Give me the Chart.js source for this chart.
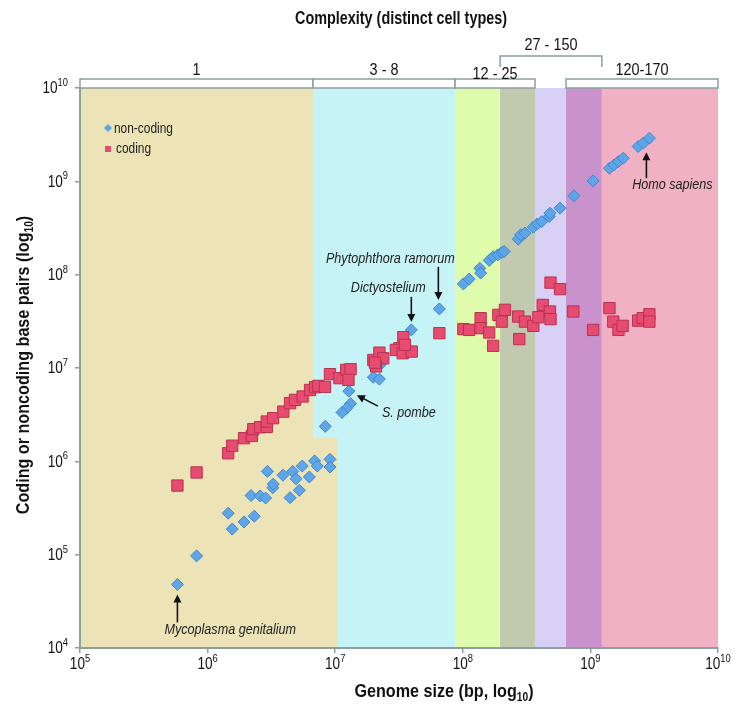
<!DOCTYPE html>
<html lang="en">
<head>
<meta charset="UTF-8">
<title>Genome size and complexity</title>
<style>
    html, body { margin: 0; padding: 0; background: #fff; }
    #wrap { width: 736px; height: 705px; }
</style>
</head>
<body>
<div id="wrap"><canvas id="myChart" width="736" height="705"></canvas></div>

<script src="https://cdn.jsdelivr.net/npm/chart.js"></script>
<script>
    var FONT = "'Liberation Sans', Arial, sans-serif";

    // non-coding base pairs per genome (blue diamonds)
    var nonCodingX = [5.8e5, 8.2e5, 1.45e6, 1.56e6, 1.93e6, 2.32e6, 2.94e6, 2.19e6, 2.58e6, 2.85e6,
        3.24e6, 3.27e6, 3.9e6, 4.65e6, 4.93e6, 5.52e6, 4.43e6, 5.24e6, 6.27e6, 6.9e6,
        7.24e6, 9.1e6, 9.1e6, 8.36e6, 1.28e7, 1.32e7, 1.23e7, 1.13e7, 1.99e7, 2.22e7,
        3.46e7, 2.24e7, 3.95e7, 6.55e7, 1.01e8, 1.12e8, 1.36e8, 1.38e8, 1.61e8, 1.73e8,
        1.88e8, 2.02e8, 2.11e8, 2.72e8, 2.84e8, 3.07e8, 3.57e8, 3.84e8, 4.15e8, 4.76e8,
        4.82e8, 5.78e8, 7.43e8, 1.05e9, 1.41e9, 1.53e9, 1.66e9, 1.81e9, 2.37e9, 2.6e9, 2.9e9];
    var nonCodingY = [4.8e4, 9.7e4, 2.78e5, 1.88e5, 2.24e5, 2.58e5, 7.8e5, 4.3e5, 4.26e5, 4.05e5,
        5.2e5, 5.7e5, 7.1e5, 7.8e5, 6.5e5, 8.9e5, 4.08e5, 4.9e5, 6.8e5, 1.01e6,
        8.9e5, 1.05e6, 8.7e5, 2.37e6, 5.65e6, 4.15e6, 3.7e6, 3.34e6, 7.96e6, 7.6e6,
        1.56e7, 1.08e7, 2.56e7, 4.3e7, 7.96e7, 8.95e7, 1.17e8, 1.04e8, 1.42e8, 1.56e8,
        1.63e8, 1.73e8, 1.77e8, 2.4e8, 2.67e8, 2.79e8, 3.23e8, 3.5e8, 3.7e8, 4.2e8,
        4.56e8, 5.16e8, 7.0e8, 1.01e9, 1.38e9, 1.5e9, 1.63e9, 1.77e9, 2.36e9, 2.57e9, 2.9e9];

    // coding base pairs per genome (red squares)
    var codingX = [5.8e5, 8.2e5, 1.45e6, 1.56e6, 1.93e6, 2.22e6, 2.28e6, 2.58e6, 2.91e6, 2.91e6,
        3.26e6, 3.92e6, 4.43e6, 4.84e6, 5.56e6, 6.35e6, 6.95e6, 7.38e6, 8.32e6, 9.1e6,
        1.08e7, 1.22e7, 1.32e7, 1.27e7, 1.99e7, 2.22e7, 2.38e7, 2.09e7, 2.05e7, 3.42e7,
        3.18e7, 2.99e7, 3.38e7, 3.98e7, 3.52e7, 6.55e7, 1.01e8, 1.12e8, 1.38e8, 1.38e8,
        1.61e8, 1.73e8, 1.9e8, 2.14e8, 2.02e8, 2.77e8, 2.72e8, 3.07e8, 3.57e8, 3.91e8,
        4.23e8, 4.82e8, 4.87e8, 4.87e8, 5.78e8, 7.35e8, 1.05e9, 1.41e9, 1.51e9, 1.66e9,
        1.79e9, 2.37e9, 2.57e9, 2.9e9, 2.9e9];
    var codingY = [5.5e5, 7.6e5, 1.22e6, 1.47e6, 1.77e6, 1.87e6, 2.21e6, 2.32e6, 2.34e6, 2.67e6,
        2.9e6, 3.41e6, 4.2e6, 4.55e6, 4.95e6, 5.82e6, 6.22e6, 6.43e6, 6.27e6, 8.59e6,
        7.78e6, 9.55e6, 9.7e6, 7.46e6, 1.22e7, 1.46e7, 1.27e7, 1.04e7, 1.14e7, 2.14e7,
        1.63e7, 1.56e7, 1.44e7, 1.5e7, 1.77e7, 2.36e7, 2.61e7, 2.56e7, 3.42e7, 2.67e7,
        2.4e7, 1.73e7, 3.71e7, 4.2e7, 3.14e7, 2.04e7, 3.56e7, 3.14e7, 2.83e7, 3.5e7,
        4.74e7, 4.03e7, 3.34e7, 8.22e7, 7.0e7, 4.03e7, 2.56e7, 4.38e7, 3.14e7, 2.56e7,
        2.83e7, 3.22e7, 3.42e7, 3.77e7, 3.14e7];

    var xTicks = [1e5, 1e6, 1e7, 1e8, 1e9, 1e10];
    var yTicks = [1e4, 1e5, 1e6, 1e7, 1e8, 1e9, 1e10];

    // complexity bands along genome size
    var bandEdges = [1e5, 6.7e6, 8.7e7, 1.96e8, 3.68e8, 6.44e8, 1.23e9, 1e10];
    var bandColors = ['#ece4b6', '#c6f3f5', '#defcac', '#c1c9ae', '#d9d0f5', '#c992cd', '#f0b1c4'];
    // first band reaches further right below this y value
    var bandStepX = 1.05e7;
    var bandStepY = 1.8e6;

    var groupLabels = ['1', '3 - 8', '12 - 25', '120-170'];
    var groupFrom = [1e5, 6.7e6, 8.7e7, 6.44e8];
    var groupTo = [6.7e6, 8.7e7, 3.68e8, 1e10];
    var upperLabel = '27 - 150';
    var upperFrom = 1.96e8;
    var upperTo = 1.23e9;

    var notes = [
        { text: 'Mycoplasma genitalium', x: 5.8e5, y: 4.8e4, tail: [0, 38], head: [0, 10], pos: [-13, 46], align: 'left' },
        { text: 'S. pombe', x: 1.28e7, y: 5.65e6, tail: [29, 15], head: [8, 4], pos: [33, 22], align: 'left' },
        { text: 'Dictyostelium', x: 3.95e7, y: 2.56e7, tail: [0, -33], head: [0, -8], pos: [-23, -42], align: 'center' },
        { text: 'Phytophthora ramorum', x: 6.55e7, y: 4.3e7, tail: [-1, -42], head: [-1, -9], pos: [-49, -50], align: 'center' },
        { text: 'Homo sapiens', x: 2.9e9, y: 2.9e9, tail: [-3, 40], head: [-3, 14], pos: [23, 47], align: 'center' }
    ];

    var AXIS = '#8d9f9f';
    var NARROW = 0.85;

    function toPoints(xs, ys) {
        var out = [];
        for (var i = 0; i < xs.length; i++) {
            out.push({ x: xs[i], y: ys[i] });
        }
        return out;
    }

    // text squeezed sideways, the original uses a condensed face
    function narrowText(ctx, text, x, y, align, sc) {
        var w = ctx.measureText(text).width * sc;
        var left = x;
        if (align === 'center') left = x - w / 2;
        if (align === 'right') left = x - w;
        ctx.save();
        ctx.translate(left, y);
        ctx.scale(sc, 1);
        ctx.textAlign = 'left';
        ctx.fillText(text, 0, 0);
        ctx.restore();
        return w;
    }

    function drawArrow(ctx, x0, y0, x1, y1) {
        var ang = Math.atan2(y1 - y0, x1 - x0);
        var hl = 8, hw = 4;
        ctx.strokeStyle = '#111';
        ctx.fillStyle = '#111';
        ctx.lineWidth = 1.6;
        ctx.beginPath();
        ctx.moveTo(x0, y0);
        ctx.lineTo(x1 - Math.cos(ang) * hl * 0.8, y1 - Math.sin(ang) * hl * 0.8);
        ctx.stroke();
        ctx.beginPath();
        ctx.moveTo(x1, y1);
        ctx.lineTo(x1 - Math.cos(ang) * hl - Math.sin(ang) * hw, y1 - Math.sin(ang) * hl + Math.cos(ang) * hw);
        ctx.lineTo(x1 - Math.cos(ang) * hl + Math.sin(ang) * hw, y1 - Math.sin(ang) * hl - Math.cos(ang) * hw);
        ctx.closePath();
        ctx.fill();
    }

    function powerLabel(ctx, value, x, y, align) {
        var exp = String(Math.round(Math.log10(value)));
        ctx.font = '16px ' + FONT;
        var wb = ctx.measureText('10').width * NARROW;
        ctx.font = '11px ' + FONT;
        var we = ctx.measureText(exp).width * NARROW;
        var left = x;
        if (align === 'center') left = x - (wb + we) / 2;
        if (align === 'right') left = x - (wb + we);
        ctx.textBaseline = 'middle';
        ctx.font = '16px ' + FONT;
        narrowText(ctx, '10', left, y, 'left', NARROW);
        ctx.font = '11px ' + FONT;
        narrowText(ctx, exp, left + wb, y - 6, 'left', NARROW);
    }

    // title with a subscript "10" before the closing bracket
    function subTitle(ctx, before, x, y) {
        ctx.font = 'bold 19px ' + FONT;
        var w1 = ctx.measureText(before).width * NARROW;
        var w3 = ctx.measureText(')').width * NARROW;
        ctx.font = 'bold 12px ' + FONT;
        var w2 = ctx.measureText('10').width * NARROW;
        var left = x - (w1 + w2 + w3) / 2;
        ctx.textBaseline = 'alphabetic';
        ctx.font = 'bold 19px ' + FONT;
        narrowText(ctx, before, left, y, 'left', NARROW);
        narrowText(ctx, ')', left + w1 + w2, y, 'left', NARROW);
        ctx.font = 'bold 12px ' + FONT;
        narrowText(ctx, '10', left + w1, y + 4, 'left', NARROW);
    }

    // bands behind everything
    var bandsPlugin = {
        id: 'bands',
        beforeDraw: function (chart) {
            var ctx = chart.ctx, xs = chart.scales.x, ys = chart.scales.y, a = chart.chartArea;
            ctx.save();
            ctx.fillStyle = '#fff';
            ctx.fillRect(0, 0, chart.width, chart.height);
            for (var i = 0; i < bandColors.length; i++) {
                var x0 = xs.getPixelForValue(bandEdges[i]);
                var x1 = xs.getPixelForValue(bandEdges[i + 1]);
                ctx.fillStyle = bandColors[i];
                ctx.fillRect(x0, a.top, x1 - x0, a.bottom - a.top);
            }
            var sx0 = xs.getPixelForValue(bandEdges[1]);
            var sx1 = xs.getPixelForValue(bandStepX);
            var sy = ys.getPixelForValue(bandStepY);
            ctx.fillStyle = bandColors[0];
            ctx.fillRect(sx0, sy, sx1 - sx0, a.bottom - sy);
            ctx.restore();
        }
    };

    // texts, brackets, ticks labels, legend and notes
    var textPlugin = {
        id: 'texts',
        afterDraw: function (chart) {
            var ctx = chart.ctx, xs = chart.scales.x, ys = chart.scales.y, a = chart.chartArea;
            ctx.save();
            ctx.fillStyle = '#111';

            // title
            ctx.font = 'bold 18px ' + FONT;
            ctx.textBaseline = 'middle';
            narrowText(ctx, 'Complexity (distinct cell types)', 401, 19, 'center', 0.8);

            // group boxes
            ctx.lineWidth = 1.5;
            ctx.strokeStyle = AXIS;
            for (var i = 0; i < groupLabels.length; i++) {
                var gx0 = xs.getPixelForValue(groupFrom[i]);
                var gx1 = xs.getPixelForValue(groupTo[i]);
                ctx.fillStyle = '#fff';
                ctx.fillRect(gx0, a.top - 9, gx1 - gx0, 9);
                ctx.strokeRect(gx0, a.top - 9, gx1 - gx0, 9);
                ctx.fillStyle = '#111';
                ctx.font = '17px ' + FONT;
                narrowText(ctx, groupLabels[i], (gx0 + gx1) / 2, i === 2 ? a.top - 14 : a.top - 18, 'center', NARROW);
            }
            var ux0 = xs.getPixelForValue(upperFrom);
            var ux1 = xs.getPixelForValue(upperTo);
            ctx.beginPath();
            ctx.moveTo(ux0, a.top - 21);
            ctx.lineTo(ux0, a.top - 32);
            ctx.lineTo(ux1, a.top - 32);
            ctx.lineTo(ux1, a.top - 21);
            ctx.stroke();
            narrowText(ctx, upperLabel, (ux0 + ux1) / 2, a.top - 43, 'center', NARROW);

            // tick labels
            ctx.fillStyle = '#111';
            for (var j = 0; j < xTicks.length; j++) {
                powerLabel(ctx, xTicks[j], xs.getPixelForValue(xTicks[j]), a.bottom + 17, 'center');
            }
            for (var k = 0; k < yTicks.length; k++) {
                powerLabel(ctx, yTicks[k], a.left - 12, ys.getPixelForValue(yTicks[k]) + 1, 'right');
            }

            // axis titles
            subTitle(ctx, 'Genome size (bp, log', 444, 697);
            ctx.save();
            ctx.translate(29, 365);
            ctx.rotate(-Math.PI / 2);
            subTitle(ctx, 'Coding or noncoding base pairs (log', 0, 0);
            ctx.restore();

            // legend
            ctx.fillStyle = '#5ea6e8';
            ctx.beginPath();
            ctx.moveTo(108, 124);
            ctx.lineTo(112, 128);
            ctx.lineTo(108, 132);
            ctx.lineTo(104, 128);
            ctx.closePath();
            ctx.fill();
            ctx.fillStyle = '#e84b70';
            ctx.fillRect(105, 146, 6, 6);
            ctx.fillStyle = '#222';
            ctx.font = '14px ' + FONT;
            ctx.textBaseline = 'middle';
            narrowText(ctx, 'non-coding', 114, 129, 'left', NARROW);
            narrowText(ctx, 'coding', 116, 149, 'left', NARROW);

            // notes with arrows
            for (var n = 0; n < notes.length; n++) {
                var nt = notes[n];
                var px = xs.getPixelForValue(nt.x);
                var py = ys.getPixelForValue(nt.y);
                drawArrow(ctx, px + nt.tail[0], py + nt.tail[1], px + nt.head[0], py + nt.head[1]);
                ctx.fillStyle = '#222';
                ctx.font = 'italic 14px ' + FONT;
                ctx.textBaseline = 'middle';
                narrowText(ctx, nt.text, px + nt.pos[0], py + nt.pos[1], nt.align, 0.9);
            }
            ctx.restore();
        }
    };

    function createChart() {
        var ctx = document.getElementById('myChart').getContext('2d');

        new Chart(ctx, {
            type: 'scatter',
            data: {
                datasets: [{
                    label: 'coding',
                    data: toPoints(codingX, codingY),
                    pointStyle: 'rect',
                    pointRadius: 8,
                    backgroundColor: '#e84b70',
                    borderColor: '#b8324f',
                    borderWidth: 1,
                    order: 0
                }, {
                    label: 'non-coding',
                    data: toPoints(nonCodingX, nonCodingY),
                    pointStyle: 'rectRot',
                    pointRadius: 6,
                    backgroundColor: '#5ea6e8',
                    borderColor: '#3f87d0',
                    borderWidth: 1,
                    order: 1
                }]
            },
            options: {
                responsive: false,
                animation: false,
                devicePixelRatio: 1,
                clip: false,
                layout: { padding: { top: 88, right: 18, left: 0, bottom: 0 } },
                scales: {
                    x: {
                        type: 'logarithmic',
                        min: 1e5,
                        max: 1e10,
                        afterBuildTicks: function (scale) {
                            scale.ticks = xTicks.map(function (v) { return { value: v }; });
                        },
                        afterFit: function (scale) { scale.height = 57; },
                        ticks: { display: false },
                        grid: { drawOnChartArea: false, drawTicks: true, tickLength: 5, color: AXIS, lineWidth: 1.5 },
                        border: { display: true, color: AXIS, width: 2 }
                    },
                    y: {
                        type: 'logarithmic',
                        min: 1e4,
                        max: 1e10,
                        afterBuildTicks: function (scale) {
                            scale.ticks = yTicks.map(function (v) { return { value: v }; });
                        },
                        afterFit: function (scale) { scale.width = 80; },
                        ticks: { display: false },
                        grid: { drawOnChartArea: false, drawTicks: true, tickLength: 5, color: AXIS, lineWidth: 1.5 },
                        border: { display: true, color: AXIS, width: 2 }
                    }
                },
                plugins: {
                    legend: { display: false },
                    tooltip: { enabled: false }
                }
            },
            plugins: [bandsPlugin, textPlugin]
        });
    }

    createChart();
</script>
</body>
</html>
